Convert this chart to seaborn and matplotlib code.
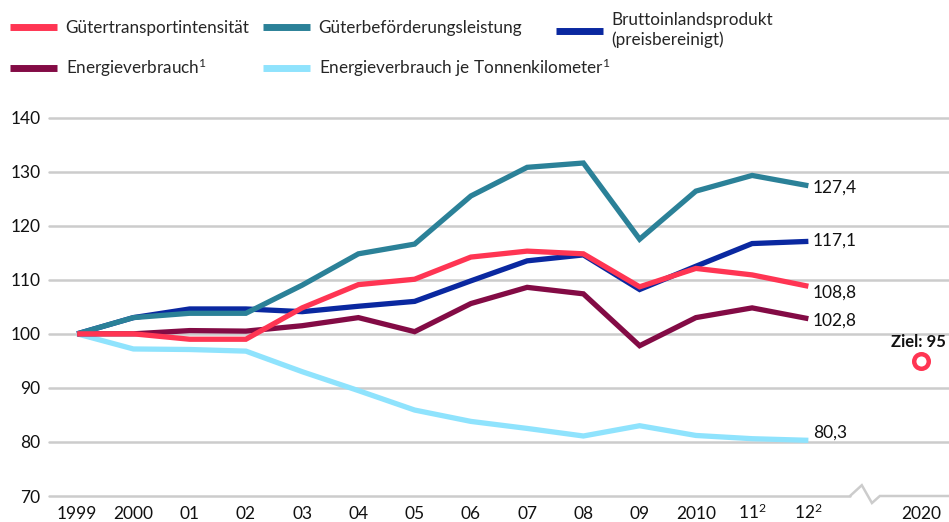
import matplotlib
matplotlib.use("Agg")
import matplotlib.pyplot as plt
import seaborn as sns
import pandas as pd
import numpy as np
from matplotlib.lines import Line2D

sns.set_theme(style="white")
plt.rcParams["font.family"] = ["Lato", "DejaVu Sans"]
plt.rcParams["mathtext.fontset"] = "custom"
plt.rcParams["mathtext.rm"] = "Lato"
plt.rcParams["mathtext.it"] = "Lato"
plt.rcParams["mathtext.bf"] = "Lato:bold"
plt.rcParams["mathtext.default"] = "regular"

# ---- data ----
years = ["1999", "2000", "01", "02", "03", "04", "05", "06", "07", "08", "09", "2010",
         "11$^{2}$", "12$^{2}$"]
tick_labels = years + ["", "2020"]

guetertransportintensitaet = [100, 100, 99.0, 99.0, 104.8, 109.1, 110.1, 114.2, 115.3, 114.8, 108.7, 112.1, 110.9, 108.8]
gueterbefoerderungsleistung = [100, 103.0, 103.8, 103.8, 109.0, 114.8, 116.6, 125.5, 130.8, 131.6, 117.5, 126.4, 129.3, 127.4]
bip = [100, 103.0, 104.6, 104.6, 104.1, 105.1, 106.0, 109.8, 113.5, 114.6, 108.2, 112.5, 116.7, 117.1]
energieverbrauch = [100, 100, 100.6, 100.5, 101.5, 103.0, 100.4, 105.6, 108.6, 107.4, 97.8, 103.0, 104.8, 102.8]
energie_je_tkm = [100, 97.2, 97.1, 96.8, 93.0, 89.5, 85.9, 83.8, 82.5, 81.1, 83.0, 81.2, 80.6, 80.3]

ziel_value = 95
end_labels = ["127,4", "117,1", "108,8", "102,8", "80,3"]

series_names = ["Energieverbrauch je Tonnenkilometer$^{1}$", "Energieverbrauch$^{1}$",
                "Bruttoinlandsprodukt\n(preisbereinigt)", "Güterbeförderungsleistung",
                "Gütertransportintensität"]
series_values = [energie_je_tkm, energieverbrauch, bip, gueterbefoerderungsleistung,
                 guetertransportintensitaet]
colors = {"Gütertransportintensität": "#ff3553",
          "Güterbeförderungsleistung": "#2b8198",
          "Bruttoinlandsprodukt\n(preisbereinigt)": "#0a28a0",
          "Energieverbrauch$^{1}$": "#830b45",
          "Energieverbrauch je Tonnenkilometer$^{1}$": "#8fe3fd"}

rows = []
for name, vals in zip(series_names, series_values):
    for i, v in enumerate(vals):
        rows.append({"x": i, "value": v, "series": name})
df = pd.DataFrame(rows)

# ---- figure ----
W, H = 949, 522
fig = plt.figure(figsize=(W / 100, H / 100), dpi=100)
left = 49 / W
bottom = 1 - 496 / H
top = 1 - 117.6 / H
ax = fig.add_axes([left, bottom, 1 - left, top - bottom])

grid_c = "#cccccc"
for yv in [80, 90, 100, 110, 120, 130, 140]:
    ax.axhline(yv, color=grid_c, lw=1.8, zorder=0, clip_on=False)

for k, name in enumerate(series_names):
    sub = df[df["series"] == name]
    sns.lineplot(data=sub, x="x", y="value", ax=ax, color=colors[name], lw=3.8,
                 legend=False, zorder=2 + k, solid_capstyle="butt", solid_joinstyle="miter")

# target marker
ax.scatter([15], [ziel_value], s=110, facecolor="white", edgecolor="#ff3553",
           linewidth=3.2, zorder=10)
ax.text(15.45, ziel_value + 3.4, "Ziel: 95", ha="right", va="center",
        fontsize=12, fontweight="bold", color="#111111")

# end labels
label_y = [127.1, 117.3, 107.7, 102.5, 81.8]
for txt, yv in zip(end_labels, label_y):
    ax.text(13.08, yv, txt, ha="left", va="center", fontsize=12.5, color="#111111")

ax.set_xlim(-0.5, 15.5)
ax.set_ylim(70, 140)
ax.set_yticks([70, 80, 90, 100, 110, 120, 130, 140])
ax.set_yticklabels(["70", "80", "90", "100", "110", "120", "130", "140"], fontsize=12.5, color="#111111")
ax.set_xticks(range(16))
ax.set_xticklabels(tick_labels, fontsize=12.5, color="#111111", va="baseline")
ax.set_xticks(np.arange(-0.5, 15.6, 1), minor=True)
ax.tick_params(axis="x", which="major", length=0, pad=16.8)
ax.tick_params(axis="x", which="minor", length=8, width=1.8, color=grid_c, direction="out")
ax.tick_params(axis="y", length=0, pad=6)
ax.set_xlabel("")
ax.set_ylabel("")
for s in ax.spines.values():
    s.set_visible(False)

# bottom axis line with break
ax.plot([-0.5, 13.74], [70, 70], color=grid_c, lw=1.8, clip_on=False, zorder=1)
ax.plot([13.74, 13.95, 14.13, 14.27, 15.5], [70, 72.0, 68.7, 70, 70], color=grid_c,
        lw=1.8, clip_on=False, zorder=1, solid_joinstyle="miter")

# legend entries
legend_pos = [("Gütertransportintensität", 10, 28),
              ("Güterbeförderungsleistung", 263, 28),
              ("Bruttoinlandsprodukt\n(preisbereinigt)", 556, 30),
              ("Energieverbrauch$^{1}$", 10, 68),
              ("Energieverbrauch je Tonnenkilometer$^{1}$", 263, 68)]
for name, px, py in legend_pos:
    h = Line2D([], [], color=colors[name], lw=5, solid_capstyle="butt")
    fig.legend(handles=[h], labels=[name], loc="center left",
               bbox_to_anchor=(px / W, 1 - py / H), bbox_transform=fig.transFigure,
               frameon=False, fontsize=12.3, handlelength=2.75, handletextpad=0.5,
               borderpad=0, borderaxespad=0, labelspacing=0)

fig.savefig("out.png", dpi=100)
